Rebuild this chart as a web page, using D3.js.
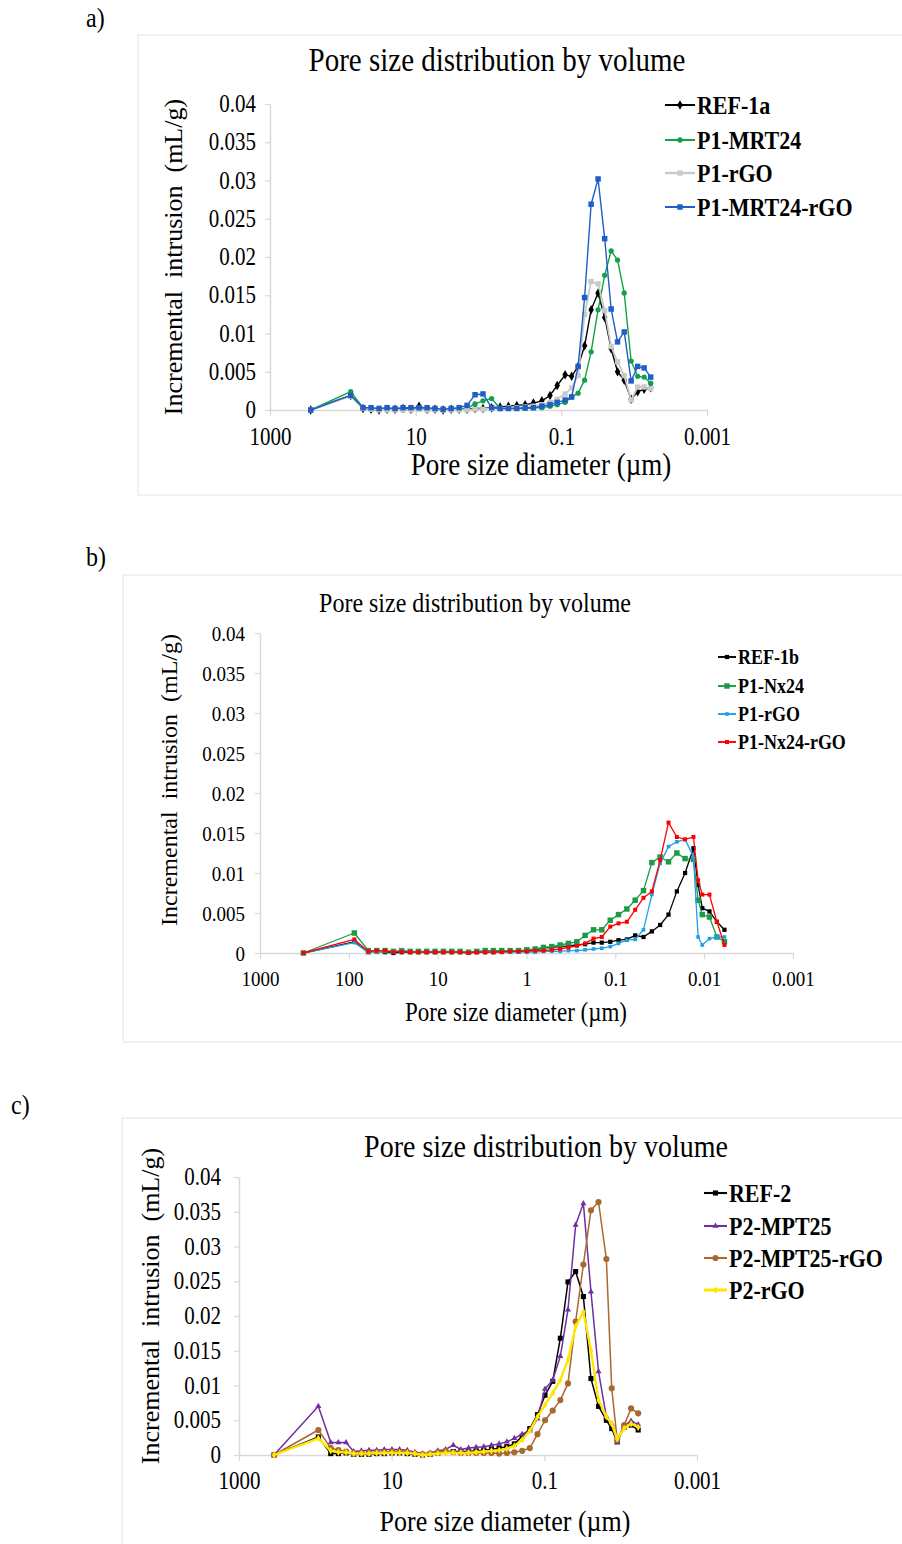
<!DOCTYPE html>
<html>
<head>
<meta charset="utf-8">
<script src="https://cdn.jsdelivr.net/npm/d3@7/dist/d3.min.js"></script>
<style>
  body { margin: 0; background: #ffffff; }
  text { font-family: "Liberation Serif", "Times New Roman", serif; fill: #000; }
</style>
</head>
<body>
<div id="chart"></div>
<script>

// ---- panel a) pore diameters (um) and incremental intrusion (mL/g)
const diamA = [276, 77.9, 52.8, 41.0, 31.8, 24.7, 19.2, 14.9, 11.6, 8.98, 6.97, 5.42, 4.20, 3.26, 2.53,
               1.97, 1.53, 1.19, 0.906, 0.693, 0.533, 0.409, 0.314, 0.242, 0.185, 0.143, 0.114, 0.0887,
               0.0722, 0.0588, 0.0479, 0.0390, 0.0313, 0.0254, 0.0207, 0.0169, 0.0137, 0.0110, 0.00895,
               0.00729, 0.00593];
const ref1a = [0, 0.0019, 0.0002, 0.0001, 0.0000, 0.0001, 0.0001, 0.0002, 0.0001, 0.0005, 0.0001, 0.0001,
               0.0000, 0.0001, 0.0001, 0.0001, 0.0002, 0.0002, 0.0003, 0.0004, 0.0005, 0.0006, 0.0007,
               0.0009, 0.0012, 0.0019, 0.0032, 0.0046, 0.0044, 0.0057, 0.0084, 0.0131, 0.0153, 0.0121,
               0.0080, 0.0050, 0.0039, 0.0014, 0.0024, 0.0027, 0.0029];
const p1Mrt24 = [0, 0.0024, 0.0003, 0.0001, 0.0001, 0.0001, 0.0001, 0.0001, 0.0001, 0.0002, 0.0001, 0.0001,
                 0.0000, 0.0001, 0.0001, 0.0002, 0.0008, 0.0012, 0.0015, 0.0002, 0.0002, 0.0002, 0.0002,
                 0.0003, 0.0003, 0.0005, 0.0007, 0.0010, 0.0017, 0.0022, 0.0039, 0.0076, 0.0131, 0.0176,
                 0.0208, 0.0196, 0.0153, 0.0064, 0.0044, 0.0043, 0.0035];
const p1RgoA = [0, 0.0018, 0.0002, 0.0001, 0.0000, 0.0000, 0.0000, 0.0000, 0.0000, 0.0001, 0.0000, 0.0000,
                0.0000, 0.0000, 0.0000, 0.0000, 0.0001, 0.0001, 0.0002, 0.0002, 0.0003, 0.0003, 0.0004,
                0.0005, 0.0007, 0.0010, 0.0014, 0.0021, 0.0029, 0.0045, 0.0125, 0.0168, 0.0165, 0.0130,
                0.0083, 0.0063, 0.0045, 0.0013, 0.0030, 0.0030, 0.0028];
const p1Mrt24Rgo = [0, 0.0019, 0.0003, 0.0003, 0.0002, 0.0003, 0.0002, 0.0003, 0.0003, 0.0003, 0.0003, 0.0002,
                    0.0001, 0.0002, 0.0003, 0.0006, 0.0020, 0.0021, 0.0003, 0.0002, 0.0002, 0.0002, 0.0003,
                    0.0003, 0.0005, 0.0007, 0.0010, 0.0013, 0.0017, 0.0057, 0.0147, 0.0269, 0.0302, 0.0224,
                    0.0132, 0.0089, 0.0102, 0.0038, 0.0057, 0.0055, 0.0043];

// ---- panel b)
const diamB = [325, 86.7, 60.3, 48.5, 39.1, 31.5, 25.4, 20.4, 16.5, 13.3, 10.7, 8.61, 6.94, 5.59, 4.50, 3.63,
               2.92, 2.36, 1.90, 1.53, 1.23, 0.992, 0.799, 0.644, 0.519, 0.418, 0.337, 0.271, 0.219, 0.176,
               0.142, 0.114, 0.0921, 0.0742, 0.0598, 0.0482, 0.0388, 0.0313, 0.0252, 0.0203, 0.0164, 0.0132,
               0.0117, 0.0105, 0.00872, 0.00719, 0.00591];
const ref1b = [0, 0.0014, 0.0001,
               0.0002, 0.0001, 0.0000, 0.0001, 0.0001, 0.0001, 0.0001, 0.0001, 0.0001, 0.0001,
               0.0001, 0.0001, 0.0001, 0.0001, 0.0001, 0.0002, 0.0002, 0.0002, 0.0003, 0.0004,
               0.0006, 0.0007, 0.0008, 0.0009, 0.0010, 0.0011, 0.0013, 0.0013, 0.0014, 0.0016,
               0.0017, 0.0022, 0.0020, 0.0027, 0.0035, 0.0048, 0.0077, 0.0100, 0.0131,
               0.0085, 0.0056, 0.0052, 0.0039, 0.0029];
const p1Nx24 = [0, 0.0025, 0.0003,
                0.0003, 0.0003, 0.0002, 0.0003, 0.0002, 0.0002, 0.0002, 0.0002, 0.0002, 0.0002,
                0.0002, 0.0001, 0.0002, 0.0003, 0.0003, 0.0003, 0.0003, 0.0003, 0.0004, 0.0005,
                0.0007, 0.0008, 0.0010, 0.0012, 0.0014, 0.0022, 0.0029, 0.0029, 0.0041, 0.0048,
                0.0055, 0.0066, 0.0078, 0.0113, 0.0120, 0.0114, 0.0125, 0.0118, 0.0117,
                0.0066, 0.0048, 0.0045, 0.0020, 0.0014];
const p1RgoB = [0, 0.0013, 0.0001,
                0.0002, 0.0002, 0.0001, 0.0004, 0.0001, 0.0001, 0.0001, 0.0001, 0.0001, 0.0001,
                0.0001, 0.0000, 0.0001, 0.0001, 0.0001, 0.0001, 0.0001, 0.0001, 0.0001, 0.0001,
                0.0002, 0.0002, 0.0002, 0.0003, 0.0003, 0.0004, 0.0005, 0.0006, 0.0008, 0.0012,
                0.0016, 0.0017, 0.0029, 0.0073, 0.0112, 0.0133, 0.0139, 0.0142, 0.0120,
                0.0020, 0.0010, 0.0018, 0.0020, 0.0020];
const p1Nx24Rgo = [0, 0.0017, 0.0002,
                   0.0003, 0.0003, 0.0001, 0.0002, 0.0001, 0.0001, 0.0001, 0.0001, 0.0001, 0.0001,
                   0.0001, 0.0000, 0.0001, 0.0001, 0.0001, 0.0001, 0.0002, 0.0002, 0.0002, 0.0003,
                   0.0003, 0.0004, 0.0005, 0.0007, 0.0009, 0.0012, 0.0018, 0.0020, 0.0033, 0.0037,
                   0.0039, 0.0054, 0.0069, 0.0077, 0.0116, 0.0163, 0.0145, 0.0142, 0.0145,
                   0.0091, 0.0073, 0.0073, 0.0039, 0.0010];

// ---- panel c)
const diamC = [348, 91.3, 62.8, 49.9, 39.6, 31.5, 24.9, 19.8, 15.7, 12.5, 9.91, 7.87, 6.24, 4.95, 3.94, 3.13,
               2.48, 1.97, 1.56, 1.24, 0.984, 0.782, 0.621, 0.493, 0.391, 0.310, 0.247, 0.195, 0.155, 0.123,
               0.0979, 0.0776, 0.0617, 0.0490, 0.0389, 0.0308, 0.0245, 0.0195, 0.0154, 0.0131, 0.0111,
               0.0090, 0.0073, 0.0059];
const ref2 = [0, 0.0026,
              0.0002, 0.0002, 0.0003, 0.0001, 0.0001, 0.0001, 0.0002, 0.0002, 0.0003, 0.0003,
              0.0002, 0.0001, 0.0000, 0.0001, 0.0003, 0.0005, 0.0005, 0.0005, 0.0005, 0.0006,
              0.0007, 0.0008, 0.0010, 0.0012, 0.0016, 0.0027, 0.0038, 0.0058, 0.0086, 0.0106,
              0.0168, 0.0249, 0.0264, 0.0228, 0.0110, 0.0070, 0.0050,
              0.0038, 0.0019, 0.0040, 0.0043, 0.0036];
const p2Mpt25 = [0, 0.0070,
                 0.0018, 0.0018, 0.0018, 0.0005, 0.0006, 0.0007, 0.0007, 0.0008, 0.0008, 0.0008,
                 0.0007, 0.0004, 0.0002, 0.0003, 0.0006, 0.0008, 0.0014, 0.0008, 0.0010, 0.0011,
                 0.0012, 0.0014, 0.0016, 0.0019, 0.0024, 0.0030, 0.0035, 0.0052, 0.0095, 0.0108,
                 0.0142, 0.0209, 0.0331, 0.0362, 0.0235, 0.0120, 0.0055,
                 0.0045, 0.0018, 0.0042, 0.0049, 0.0044];
const p2Mpt25Rgo = [0, 0.0036,
                    0.0010, 0.0007, 0.0005, 0.0002, 0.0003, 0.0003, 0.0004, 0.0004, 0.0005, 0.0005,
                    0.0004, 0.0002, 0.0001, 0.0002, 0.0004, 0.0006, 0.0004, 0.0003, 0.0003, 0.0003,
                    0.0003, 0.0003, 0.0002, 0.0003, 0.0004, 0.0006, 0.0010, 0.0030, 0.0050, 0.0064,
                    0.0079, 0.0103, 0.0192, 0.0274, 0.0352, 0.0364, 0.0282,
                    0.0096, 0.0022, 0.0043, 0.0067, 0.0060];
const p2Rgo = [0, 0.0024,
               0.0006, 0.0004, 0.0004, 0.0002, 0.0002, 0.0002, 0.0003, 0.0003, 0.0003, 0.0003,
               0.0003, 0.0002, 0.0000, 0.0001, 0.0002, 0.0003, 0.0003, 0.0003, 0.0003, 0.0004,
               0.0005, 0.0006, 0.0007, 0.0009, 0.0013, 0.0022, 0.0035, 0.0055, 0.0072, 0.0089,
               0.0108, 0.0137, 0.0185, 0.0206, 0.0150, 0.0079, 0.0055,
               0.0045, 0.0023, 0.0038, 0.0045, 0.0040];

// ---- axis ticks
const yTickValues = [0, 0.005, 0.01, 0.015, 0.02, 0.025, 0.03, 0.035, 0.04];
const yTickLabels = ["0", "0.005", "0.01", "0.015", "0.02", "0.025", "0.03", "0.035", "0.04"];
const xTicksAC = [1000, 10, 0.1, 0.001];
const xLabelsAC = ["1000", "10", "0.1", "0.001"];
const xTicksB = [1000, 100, 10, 1, 0.1, 0.01, 0.001];
const xLabelsB = ["1000", "100", "10", "1", "0.1", "0.01", "0.001"];

const titleText = "Pore size distribution by volume";
const xTitleText = "Pore size diameter (\u00b5m)";
const yTitleText = "Incremental  intrusion  (mL/g)";

const width = 902, height = 1544;
const axisGrey = "#d9d9d9";
// the scanned figure is a little taller than wide, so text is drawn stretched vertically
const stretch = 1.15;

let svg = d3.select("#chart")
            .append("svg")
            .attr("width", width)
            .attr("height", height);

function addText(x, y, str, size) {
    return svg.append("text")
              .attr("transform", "translate(" + x + "," + y + ") scale(1," + stretch + ")")
              .style("font-size", size + "px")
              .style("white-space", "pre")
              .text(str);
}

const panels = [
  {
    letter: "a)", letterPos: [86, 27],
    frame: [138, 35, 770, 460],
    titleY: 71, titleX: 497, titleSize: 29,
    x0: 270, x1: 707, yTop: 104, yBottom: 410,
    xTicks: xTicksAC, xLabels: xLabelsAC, tickSize: 21, xTickGap: 20, yTickGap: 14,
    xTitlePos: [541, 475], xTitleSize: 27,
    yTitlePos: [182, 257], yTitleSize: 26,
    legX: 665, legText: 697, legRows: [105, 140, 173, 207], legSize: 22, legWeight: "bold",
    xd: diamA,
    series: [
      {name: "REF-1a", values: ref1a, color: "#000000", symbol: d3.symbolDiamond, size: 26, lw: 1.4},
      {name: "P1-MRT24", values: p1Mrt24, color: "#12a04a", symbol: d3.symbolCircle, size: 22, lw: 1.4},
      {name: "P1-rGO", values: p1RgoA, color: "#c9c9c9", symbol: d3.symbolSquare, size: 28, lw: 1.8},
      {name: "P1-MRT24-rGO", values: p1Mrt24Rgo, color: "#1f5ec6", symbol: d3.symbolSquare, size: 30, lw: 1.4}
    ]
  },
  {
    letter: "b)", letterPos: [86, 566],
    frame: [123, 575, 790, 467],
    titleY: 612, titleX: 475, titleSize: 24,
    x0: 260, x1: 793, yTop: 633, yBottom: 953,
    xTicks: xTicksB, xLabels: xLabelsB, tickSize: 19, xTickGap: 20, yTickGap: 15,
    xTitlePos: [516, 1021], xTitleSize: 23,
    yTitlePos: [177, 780], yTitleSize: 24,
    legX: 718, legText: 738, legRows: [657, 686, 714, 742], legSize: 18, legWeight: "bold",
    xd: diamB,
    series: [
      {name: "REF-1b", values: ref1b, color: "#000000", symbol: d3.symbolSquare, size: 18, lw: 1.3},
      {name: "P1-Nx24", values: p1Nx24, color: "#1c9a48", symbol: d3.symbolSquare, size: 30, lw: 1.3},
      {name: "P1-rGO", values: p1RgoB, color: "#1ea0e6", symbol: d3.symbolSquare, size: 13, lw: 1.3},
      {name: "P1-Nx24-rGO", values: p1Nx24Rgo, color: "#ff0000", symbol: d3.symbolSquare, size: 16, lw: 1.3}
    ]
  },
  {
    letter: "c)", letterPos: [11, 1114],
    frame: [122, 1118, 790, 440],
    titleY: 1157, titleX: 546, titleSize: 28,
    x0: 239, x1: 697, yTop: 1177, yBottom: 1455,
    xTicks: xTicksAC, xLabels: xLabelsAC, tickSize: 21, xTickGap: 19, yTickGap: 18,
    xTitlePos: [505, 1531], xTitleSize: 26,
    yTitlePos: [159, 1306], yTitleSize: 26,
    legX: 704, legText: 729, legRows: [1193, 1226, 1258, 1290], legSize: 22, legWeight: "bold",
    xd: diamC,
    series: [
      {name: "REF-2", values: ref2, color: "#000000", symbol: d3.symbolSquare, size: 26, lw: 1.5},
      {name: "P2-MPT25", values: p2Mpt25, color: "#7030a0", symbol: d3.symbolTriangle, size: 16, lw: 1.5},
      {name: "P2-MPT25-rGO", values: p2Mpt25Rgo, color: "#a8692f", symbol: d3.symbolCircle, size: 30, lw: 1.5},
      {name: "P2-rGO", values: p2Rgo, color: "#ffe600", symbol: d3.symbolDiamond, size: 16, lw: 2.4}
    ]
  }
];

panels.forEach(function(p) {

    // light frame round each panel
    svg.append("rect")
       .attr("x", p.frame[0]).attr("y", p.frame[1])
       .attr("width", p.frame[2]).attr("height", p.frame[3])
       .attr("fill", "none").attr("stroke", "#e4e4e4").attr("stroke-width", 1);

    addText(p.letterPos[0], p.letterPos[1], p.letter, 24);

    addText(p.titleX, p.titleY, titleText, p.titleSize)
       .attr("text-anchor", "middle");

    var x = d3.scaleLog().domain([1000, 0.001]).range([p.x0, p.x1]);
    var y = d3.scaleLinear().domain([0, 0.04]).range([p.yBottom, p.yTop]);

    var yAxis = svg.append("g")
        .attr("transform", "translate(" + p.x0 + ",0)")
        .call(d3.axisLeft(y)
                .tickValues(yTickValues)
                .tickFormat(function(d, i) { return yTickLabels[i]; })
                .tickSizeInner(5).tickSizeOuter(0)
                .tickPadding(p.yTickGap - 5));

    var xAxis = svg.append("g")
        .attr("transform", "translate(0," + p.yBottom + ")")
        .call(d3.axisBottom(x)
                .tickValues(p.xTicks)
                .tickFormat(function(d, i) { return p.xLabels[i]; })
                .tickSizeInner(6).tickSizeOuter(0)
                .tickPadding(p.xTickGap - 6));

    [yAxis, xAxis].forEach(function(g) {
        g.select(".domain").attr("stroke", axisGrey).attr("stroke-width", 1.5);
        g.selectAll(".tick line").attr("stroke", axisGrey).attr("stroke-width", 1.2);
        g.selectAll(".tick text")
         .style("font-family", "'Liberation Serif', serif")
         .style("font-size", p.tickSize + "px")
         .attr("fill", "#000")
         .attr("transform", "scale(1," + stretch + ")");
    });
    // keep the x labels' baseline where it was before stretching
    xAxis.selectAll(".tick text")
         .attr("y", (p.xTickGap + 0.71 * p.tickSize) / stretch - 0.71 * p.tickSize);

    addText(p.xTitlePos[0], p.xTitlePos[1], xTitleText, p.xTitleSize)
       .attr("text-anchor", "middle");

    svg.append("text")
       .attr("transform", "translate(" + p.yTitlePos[0] + "," + p.yTitlePos[1] + ") rotate(-90)")
       .attr("text-anchor", "middle")
       .style("font-size", p.yTitleSize + "px")
       .style("white-space", "pre")
       .text(yTitleText);

    var line = d3.line()
                 .x(function(d, i) { return x(p.xd[i]); })
                 .y(function(d) { return y(d); });

    p.series.forEach(function(s, k) {
        var g = svg.append("g");

        g.append("path")
         .datum(s.values)
         .attr("d", line)
         .attr("fill", "none")
         .attr("stroke", s.color)
         .attr("stroke-width", s.lw)
         .attr("stroke-linejoin", "round");

        g.selectAll("path.pt")
         .data(s.values)
         .enter().append("path")
         .attr("class", "pt")
         .attr("d", d3.symbol().type(s.symbol).size(s.size))
         .attr("transform", function(d, i) { return "translate(" + x(p.xd[i]) + "," + y(d) + ")"; })
         .attr("fill", s.color);

        // legend entry
        var ly = p.legRows[k];
        var lineLen = p.legText - p.legX - 2;
        svg.append("line")
           .attr("x1", p.legX).attr("x2", p.legX + lineLen)
           .attr("y1", ly).attr("y2", ly)
           .attr("stroke", s.color).attr("stroke-width", s.lw + 0.6);
        svg.append("path")
           .attr("d", d3.symbol().type(s.symbol).size(s.size))
           .attr("transform", "translate(" + (p.legX + lineLen / 2) + "," + ly + ")")
           .attr("fill", s.color);
        addText(p.legText, ly, s.name, p.legSize)
           .attr("dy", "0.35em")
           .style("font-weight", p.legWeight);
    });
});

</script>
</body>
</html>
